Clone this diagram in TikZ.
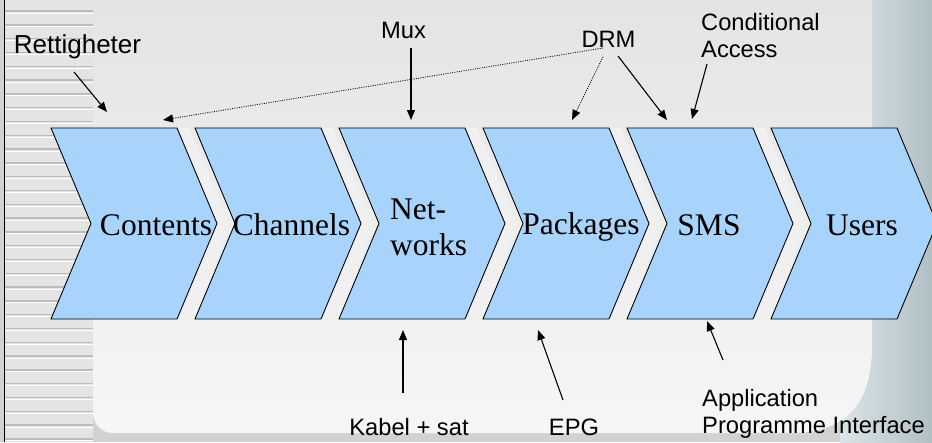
\documentclass[tikz,border=0pt]{standalone}
\usepackage{fontspec}
\setmainfont{Liberation Serif}
\setsansfont{Liberation Sans}
\usetikzlibrary{arrows.meta}

\definecolor{chevblue}{RGB}{168,212,252}
\definecolor{chevshade}{RGB}{240,240,240}
\definecolor{stripebg}{RGB}{228,228,228}
\definecolor{stripeline}{RGB}{188,188,188}
\definecolor{paneltop}{RGB}{228,228,228}
\definecolor{panelbot}{RGB}{246,246,246}
\definecolor{sideblue}{RGB}{196,210,214}
\definecolor{sidedark}{RGB}{176,192,197}

\begin{document}
\begin{tikzpicture}[x=1pt, y=-1pt,
  chev/.style={draw=black, line width=0.9pt, fill=chevblue, line join=miter},
  stage/.style={inner sep=0pt, font=\fontsize{31.5}{36}\selectfont, align=left},
  lbl/.style={inner sep=0pt, font=\sffamily\fontsize{23.7}{27}\selectfont, align=left},
  arr/.style={line width=1.1pt, -{Triangle[length=10pt,width=8pt]}},
  darr/.style={arr, line width=0.8pt, dash pattern=on 1pt off 1.3pt}]

\useasboundingbox (0,0) rectangle (932,442);

% background of the slide
\fill[gray!35] (0,0) rectangle (932,442);
\shade[left color=sideblue!60!white, right color=sidedark] (840,0) rectangle (932,442);
\fill[stripebg] (4,0) rectangle (93,442);
\foreach \y in {0,13.8,...,442} {
  \draw[stripeline, line width=1.4pt] (4,\y+11) -- (93,\y+11);
  \draw[white, line width=1pt] (4,\y+13) -- (93,\y+13);
}
\draw[black, line width=0.8pt] (4,0) -- (4,442);
\shade[top color=paneltop, bottom color=panelbot]
  (93,0) -- (872,0) -- (872,345) .. controls (872,400) and (850,433) .. (790,433)
  -- (113,433) .. controls (102,433) and (93,424) .. (93,413) -- cycle;

% the six stages
\foreach \l in {51,195,339,483,627}
  \fill[chevshade] (\l+12,128) -- ++(126,0) -- ++(40,95.5) -- ++(-40,95.5) -- ++(-126,0) -- ++(40,-95.5) -- cycle;
\foreach \l in {51,195,339,483,627,771}
  \draw[chev] (\l,128) -- ++(126,0) -- ++(40,95.5) -- ++(-40,95.5) -- ++(-126,0) -- ++(40,-95.5) -- cycle;

\node[stage, anchor=base] (Contents) at (156,235) {Contents};
\node[stage, anchor=base] (Channels) at (291.5,235) {Channels};
\node[stage, anchor=base west] (Networks) at (390,255) {Net-\\works};
\node[stage, anchor=base] (Packages) at (581,234) {Packages};
\node[stage, anchor=base] (SMS) at (709,235) {SMS};
\node[stage, anchor=base] (Users) at (862,235) {Users};

% labels
\node[lbl, anchor=base, font=\sffamily\fontsize{26}{28}\selectfont] (Rett) at (77.5,53) {Rettigheter};
\node[lbl, anchor=base] (Mux) at (403.5,38) {Mux};
\node[lbl, anchor=base] (DRM) at (608.5,47) {DRM};
\node[lbl, anchor=base west] (CA) at (701,57) {Conditional\\Access};
\node[lbl, anchor=base] (Kabel) at (409,435) {Kabel + sat};
\node[lbl, anchor=base] (EPG) at (574,435) {EPG};
\node[lbl, anchor=base west] (API) at (702,433) {Application\\Programme Interface};

% arrow ends
\coordinate (rett-s) at (74,72);   \coordinate (rett-e) at (107,112);
\coordinate (mux-s) at (411,48);   \coordinate (mux-e) at (411,120);
\coordinate (drm-s) at (603,48);   \coordinate (drm-c) at (163,120);
\coordinate (drm-t) at (603,57);   \coordinate (drm-p) at (572,120);
\coordinate (drm-u) at (618,56);   \coordinate (drm-m) at (667,120);
\coordinate (ca-s) at (707,64);    \coordinate (ca-e) at (692,119);
\coordinate (kab-s) at (403,393);  \coordinate (kab-e) at (403,330);
\coordinate (epg-s) at (563,400);  \coordinate (epg-e) at (538,330);
\coordinate (api-s) at (723,360);  \coordinate (api-e) at (707,321);

\draw[arr] (rett-s) -- (rett-e);
\draw[arr] (mux-s) -- (mux-e);
\draw[darr] (drm-s) -- (drm-c);
\draw[darr] (drm-t) -- (drm-p);
\draw[arr] (drm-u) -- (drm-m);
\draw[arr] (ca-s) -- (ca-e);
\draw[arr] (kab-s) -- (kab-e);
\draw[arr] (epg-s) -- (epg-e);
\draw[arr] (api-s) -- (api-e);

\end{tikzpicture}
\end{document}
